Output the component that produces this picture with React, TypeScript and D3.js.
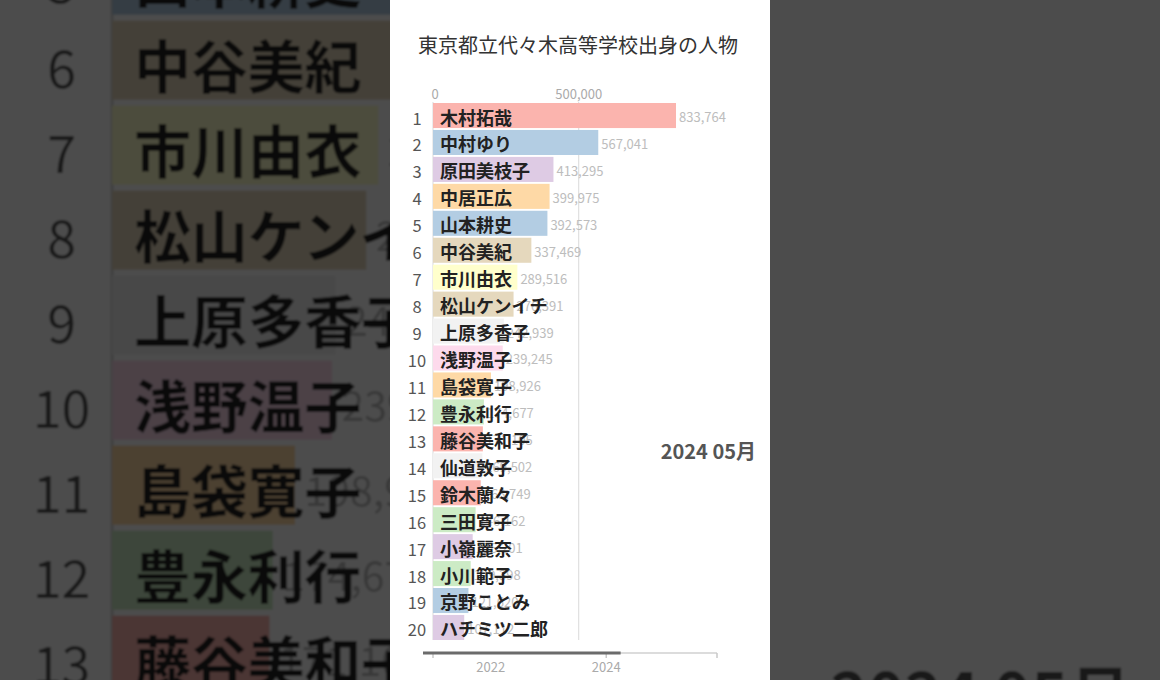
import { useEffect, useRef } from "react"
import * as d3 from "d3"

const title = "東京都立代々木高等学校出身の人物"
const dateLabel = "2024 05月"

const names = [
  "木村拓哉", "中村ゆり", "原田美枝子", "中居正広", "山本耕史",
  "中谷美紀", "市川由衣", "松山ケンイチ", "上原多香子", "浅野温子",
  "島袋寛子", "豊永利行", "藤谷美和子", "仙道敦子", "鈴木蘭々",
  "三田寛子", "小嶺麗奈", "小川範子", "京野ことみ", "ハチミツ二郎",
]
const values = [
  833764, 567041, 413295, 399975, 392573,
  337469, 289516, 276391, 242939, 239245,
  198926, 174677, 171105, 169502, 163749,
  146162, 136201, 129398, 121620, 107112,
]
// index into d3.schemePastel1
const colorIndex = [0, 1, 3, 4, 1, 6, 5, 6, 8, 7, 4, 2, 0, 8, 0, 2, 3, 2, 1, 3]

const xTicks = [0, 500000]
const timeStart = new Date(2021, 0, 1)
const timeEnd = new Date(2025, 11, 1)
const timeTicks = [new Date(2021, 0, 1), new Date(2024, 0, 1), new Date(2025, 11, 1)]
const timeLabels = [new Date(2022, 0, 1), new Date(2024, 0, 1)]
const progressDate = new Date(2024, 3, 1)

const W = 1160
const H = 680
const FONT = "'Noto Sans CJK JP', 'Noto Sans', sans-serif"

function drawChart(g: d3.Selection<SVGGElement, unknown, null, undefined>) {
  // white panel
  g.append("rect")
    .attr("x", 390)
    .attr("y", 0)
    .attr("width", 380)
    .attr("height", H)
    .attr("fill", "#fff")

  g.append("text")
    .attr("x", 578)
    .attr("y", 53)
    .attr("text-anchor", "middle")
    .style("font-family", FONT)
    .style("font-size", "20px")
    .style("fill", "#333")
    .text(title)

  const x = d3.scaleLinear().domain([0, d3.max(values) as number]).range([433, 676])
  const y = d3
    .scaleBand<number>()
    .domain(d3.range(names.length))
    .range([103, 640])
    .paddingInner(0.07)

  // grid lines + top tick labels
  g.selectAll(".grid")
    .data(xTicks)
    .enter()
    .append("line")
    .attr("x1", (d) => x(d))
    .attr("x2", (d) => x(d))
    .attr("y1", 102)
    .attr("y2", 640)
    .style("stroke", "#d9d9d9")
    .style("stroke-width", "1px")

  g.selectAll(".xlabel")
    .data(xTicks)
    .enter()
    .append("text")
    .attr("x", (d) => x(d) + (d === 0 ? 2 : 0))
    .attr("y", 99)
    .attr("text-anchor", "middle")
    .style("font-family", FONT)
    .style("font-size", "13px")
    .style("fill", "#aaa")
    .text((d) => d3.format(",")(d))

  // bars
  g.selectAll(".bar")
    .data(values)
    .enter()
    .append("rect")
    .attr("x", x(0))
    .attr("y", (d, i) => y(i) as number)
    .attr("width", (d) => x(d) - x(0))
    .attr("height", y.bandwidth())
    .style("fill", (d, i) => d3.schemePastel1[colorIndex[i]])

  // value labels
  g.selectAll(".value")
    .data(values)
    .enter()
    .append("text")
    .attr("x", (d) => x(d) + 3)
    .attr("y", (d, i) => (y(i) as number) + 19)
    .style("font-family", FONT)
    .style("font-size", "13px")
    .style("fill", "#bdbdbd")
    .text((d) => d3.format(",")(d))

  // rank numbers
  g.selectAll(".rank")
    .data(names)
    .enter()
    .append("text")
    .attr("x", 417)
    .attr("y", (d, i) => (y(i) as number) + 21.5)
    .attr("text-anchor", "middle")
    .style("font-family", FONT)
    .style("font-size", "16.5px")
    .style("fill", "#555")
    .text((d, i) => i + 1)

  // names
  g.selectAll(".name")
    .data(names)
    .enter()
    .append("text")
    .attr("x", x(0) + 7)
    .attr("y", (d, i) => (y(i) as number) + 21.5)
    .style("font-family", FONT)
    .style("font-size", "18px")
    .style("font-weight", "bold")
    .style("fill", "#222")
    .text((d) => d)

  // current date
  g.append("text")
    .attr("x", 756)
    .attr("y", 459)
    .attr("text-anchor", "end")
    .style("font-family", FONT)
    .style("font-size", "20px")
    .style("font-weight", "bold")
    .style("fill", "#555")
    .text(dateLabel)

  // time line at the bottom
  const t = d3.scaleTime().domain([timeStart, timeEnd]).range([433, 717])
  const ty = 653

  g.append("line")
    .attr("x1", t.range()[0] - 10)
    .attr("x2", t.range()[1])
    .attr("y1", ty)
    .attr("y2", ty)
    .style("stroke", "#d0d0d0")
    .style("stroke-width", "1.5px")

  g.selectAll(".ttick")
    .data(timeTicks)
    .enter()
    .append("line")
    .attr("x1", (d) => t(d))
    .attr("x2", (d) => t(d))
    .attr("y1", ty)
    .attr("y2", ty + 5)
    .style("stroke", "#c8c8c8")
    .style("stroke-width", "1.5px")

  g.append("line")
    .attr("x1", t.range()[0] - 10)
    .attr("x2", t(progressDate))
    .attr("y1", ty)
    .attr("y2", ty)
    .style("stroke", "#6b6b6b")
    .style("stroke-width", "3px")

  g.selectAll(".tlabel")
    .data(timeLabels)
    .enter()
    .append("text")
    .attr("x", (d) => t(d))
    .attr("y", 672)
    .attr("text-anchor", "middle")
    .style("font-family", FONT)
    .style("font-size", "13px")
    .style("fill", "#aaa")
    .text((d) => d3.timeFormat("%Y")(d))
}

export default function App() {
  const svgRef = useRef<SVGSVGElement>(null)

  useEffect(() => {
    if (!svgRef.current) return
    const svg = d3.select(svgRef.current)
    svg.selectAll("*").remove()

    svg.append("rect").attr("width", W).attr("height", H).attr("fill", "#4d4d4d")

    // blurred, enlarged copy behind the panel
    const defs = svg.append("defs")
    defs
      .append("filter")
      .attr("id", "bgBlur")
      .attr("x", "-5%")
      .attr("y", "-5%")
      .attr("width", "110%")
      .attr("height", "110%")
      .append("feGaussianBlur")
      .attr("stdDeviation", 1.1)

    const bgOuter = svg.append("g").attr("filter", "url(#bgBlur)")
    const bg = bgOuter.append("g").attr("transform", "translate(-1254,-729.4) scale(3.155)")
    drawChart(bg)

    svg.append("rect").attr("width", W).attr("height", H).attr("fill", "#000").attr("opacity", 0.7)

    const fg = svg.append("g")
    drawChart(fg)
  }, [])

  return (
    <svg
      ref={svgRef}
      width={W}
      height={H}
      style={{ position: "absolute", left: 0, top: 0, display: "block" }}
    ></svg>
  )
}
